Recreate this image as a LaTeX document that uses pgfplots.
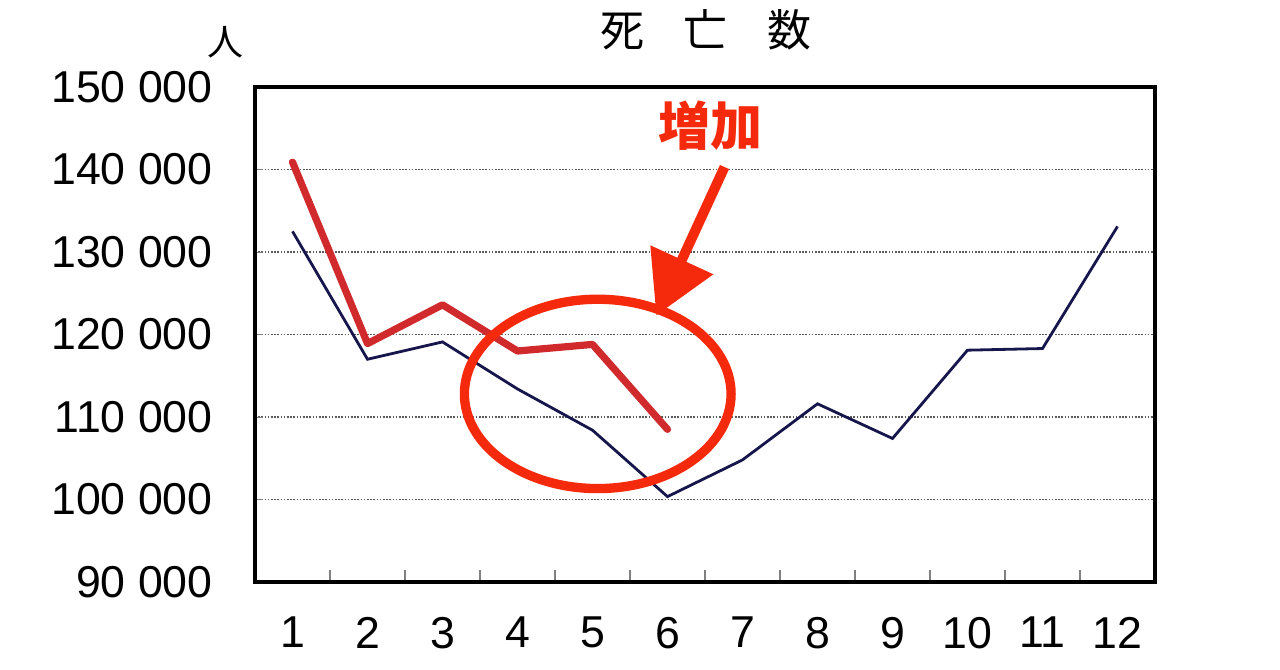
\documentclass[border=0pt]{standalone}
\usepackage{pgfplots}
\pgfplotsset{compat=1.18}
\usepackage{fontspec}
\setmainfont{Noto Sans CJK JP}
\newfontfamily\numfont{Liberation Sans}
\usetikzlibrary{arrows.meta}
\definecolor{navyline}{HTML}{16164C}
\definecolor{dataRed}{HTML}{D02A2C}
\definecolor{markRed}{HTML}{F52A0C}
\begin{document}
\begin{tikzpicture}
\path[use as bounding box] (0,0) rectangle (960pt,501.75pt);
\begin{axis}[
  at={(191.25pt,65.25pt)}, anchor=south west,
  scale only axis, width=675pt, height=371.25pt,
  xmin=0.5, xmax=12.5, ymin=90000, ymax=150000,
  axis line style={line width=2.6pt},
  xtick={1,...,12},
  major x tick style={draw=none},
  minor xtick={1.5,2.5,...,11.5},
  minor x tick style={line width=0.9pt},
  minor tick length=9pt,
  ytick={90000,100000,110000,120000,130000,140000,150000},
  yticklabels={90 000,100 000,110 000,120 000,130 000,140 000,150 000},
  major tick length=6pt,
  tick align=inside,
  xtick pos=bottom, ytick pos=left,
  ymajorgrids,
  major grid style={black!65, line width=1.3pt, dash pattern=on 1.2pt off 1.2pt},
  tick label style={font=\numfont\fontsize{33.5pt}{36pt}\selectfont, inner sep=0pt},
  yticklabel style={anchor=east, xshift=-31.5pt},
  xticklabel style={anchor=north, yshift=-26pt},
  /pgf/number format/assume math mode=true,
  scaled y ticks=false,
  clip=false,
]
\addplot[navyline, line width=2.1pt] coordinates {
  (1,132500) (2,117000) (3,119100) (4,113400) (5,108400) (6,100350)
  (7,104800) (8,111600) (9,107400) (10,118100) (11,118300) (12,133100)
};
\addplot[dataRed, line width=5.4pt, line join=round, line cap=round] coordinates {
  (1,140900) (2,118900) (3,123600) (4,118000) (5,118800) (6,108500)
};
\draw[markRed, line width=7pt] (axis cs:5.07,112800) ellipse [x radius=100pt, y radius=71pt];
\draw[markRed, line width=7.5pt, -{Triangle[length=46pt, width=50pt]}]
  (axis cs:6.76,140300) -- (axis cs:5.85,122300);
\node[text=markRed, font=\fontsize{39pt}{42pt}\selectfont\bfseries] at (axis cs:6.57,145300) {増加};
\end{axis}
\node at (529.5pt,479.25pt) {\fontsize{33pt}{36pt}\selectfont 死\hspace{0.9em}亡\hspace{0.9em}数};
\node at (168.75pt,470pt) {\fontsize{27pt}{30pt}\selectfont 人};
\end{tikzpicture}
\end{document}
